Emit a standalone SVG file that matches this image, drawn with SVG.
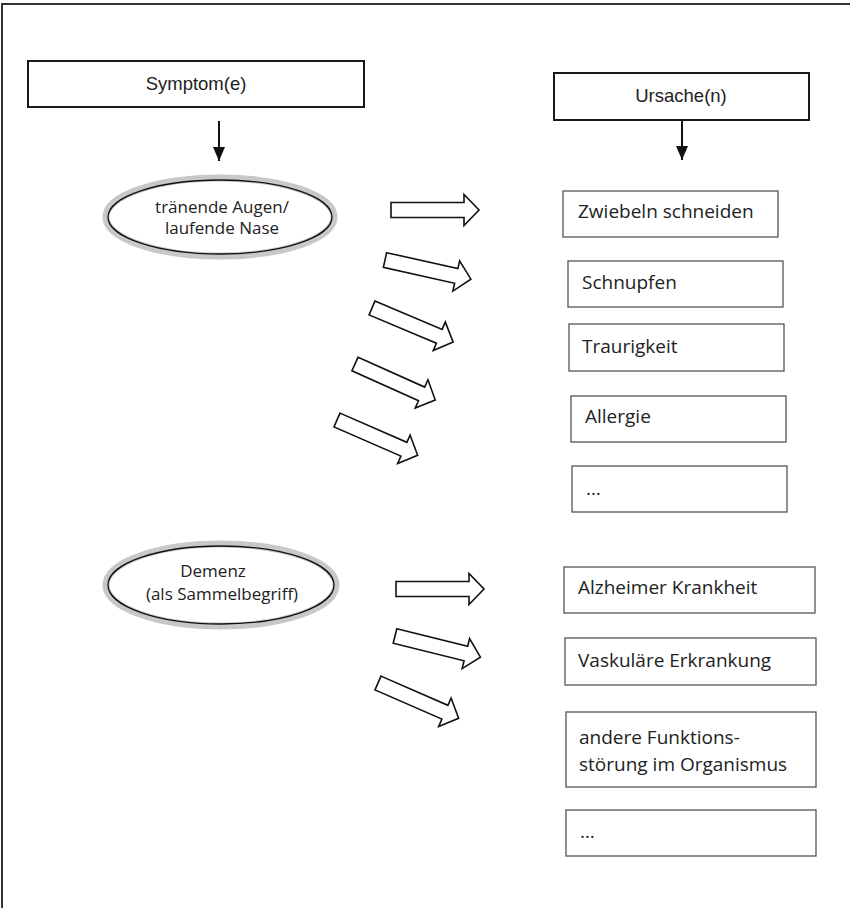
<svg xmlns="http://www.w3.org/2000/svg" width="850" height="908" viewBox="0 0 850 908">
<defs>
<style>
.frame{stroke:#333;stroke-width:2;fill:none}
.hdr{fill:#fff;stroke:#1a1a1a;stroke-width:2}
.hdrt{font-family:"Liberation Sans Narrow","Liberation Sans",Arial,sans-serif;font-size:18.5px;fill:#222;text-anchor:middle}
.box{fill:#fff;stroke:#555;stroke-width:1.3}
.bt{font-family:"Open Sans","Noto Sans",sans-serif;font-size:19px;fill:#222}
.et{font-family:"Open Sans","Noto Sans",sans-serif;font-size:17px;fill:#222;text-anchor:middle}
.ring{fill:#fff;stroke:#c8c8c8;stroke-width:7}
.rim{fill:none;stroke:#111;stroke-width:1.3}
.blk{fill:#fff;stroke:#111;stroke-width:1.6;stroke-linejoin:miter}
.ln{stroke:#111;stroke-width:2}
</style>
<polygon id="ba" points="0,-7.5 73,-7.5 73,-15.5 88,0 73,15.5 73,7.5 0,7.5"/>
<marker id="ah" viewBox="0 0 14 12" refX="14" refY="6" markerWidth="14" markerHeight="12" markerUnits="userSpaceOnUse" orient="auto">
<path d="M0,0 L14,6 L0,12 Z" fill="#111"/>
</marker>
</defs>
<rect width="850" height="908" fill="#fff"/>
<path class="frame" d="M2,908 V4 H850"/>

<g id="symptom-header">
<rect class="hdr" x="28" y="61" width="336" height="46"/>
<text class="hdrt" x="196" y="90">Symptom(e)</text>
</g>
<g id="ursache-header">
<rect class="hdr" x="554" y="73" width="255" height="47"/>
<text class="hdrt" x="681" y="102">Ursache(n)</text>
</g>

<g id="ellipse-augen">
<ellipse class="ring" cx="220" cy="217" rx="114" ry="39"/>
<ellipse class="rim" cx="220" cy="217" rx="112" ry="37"/>
<text class="et" x="222" y="213">tränende Augen/</text>
<text class="et" x="222" y="234">laufende Nase</text>
</g>
<g id="ellipse-demenz">
<ellipse class="ring" cx="221" cy="585" rx="115" ry="41"/>
<ellipse class="rim" cx="221" cy="585" rx="113" ry="39"/>
<text class="et" x="213" y="577">Demenz</text>
<text class="et" x="222" y="600">(als Sammelbegriff)</text>
</g>

<g id="box-zwiebeln"><rect class="box" x="563" y="191" width="215" height="46"/><text class="bt" x="578" y="218">Zwiebeln schneiden</text></g>
<g id="box-schnupfen"><rect class="box" x="568" y="261" width="215" height="46"/><text class="bt" x="582" y="289">Schnupfen</text></g>
<g id="box-traurigkeit"><rect class="box" x="569" y="324" width="215" height="47"/><text class="bt" x="582" y="353">Traurigkeit</text></g>
<g id="box-allergie"><rect class="box" x="571" y="396" width="215" height="46"/><text class="bt" x="585" y="423">Allergie</text></g>
<g id="box-dots1"><rect class="box" x="572" y="466" width="215" height="46"/><text class="bt" x="586" y="495">…</text></g>

<g id="box-alzheimer"><rect class="box" x="564" y="567" width="251" height="46"/><text class="bt" x="578" y="594">Alzheimer Krankheit</text></g>
<g id="box-vaskulaer"><rect class="box" x="565" y="638" width="251" height="47"/><text class="bt" x="578" y="667">Vaskuläre Erkrankung</text></g>
<g id="box-andere"><rect class="box" x="566" y="712" width="250" height="75"/><text class="bt" x="579" y="744">andere Funktions-</text><text class="bt" x="579" y="771">störung im Organismus</text></g>
<g id="box-dots2"><rect class="box" x="566" y="810" width="250" height="46"/><text class="bt" x="580" y="838">…</text></g>

<g id="connectors">
<line class="ln" x1="219" y1="121" x2="219" y2="161" marker-end="url(#ah)"/>
<line class="ln" x1="682" y1="121" x2="682" y2="160" marker-end="url(#ah)"/>
<use href="#ba" class="blk" transform="translate(391,210)"/>
<use href="#ba" class="blk" transform="translate(385,260) rotate(12.6)"/>
<use href="#ba" class="blk" transform="translate(372,308) rotate(22.8)"/>
<use href="#ba" class="blk" transform="translate(355,364) rotate(24.2)"/>
<use href="#ba" class="blk" transform="translate(337,420) rotate(23.6)"/>
<use href="#ba" class="blk" transform="translate(396,589)"/>
<use href="#ba" class="blk" transform="translate(395,636) rotate(13.9)"/>
<use href="#ba" class="blk" transform="translate(378,683) rotate(23.6)"/>
</g>
</svg>
